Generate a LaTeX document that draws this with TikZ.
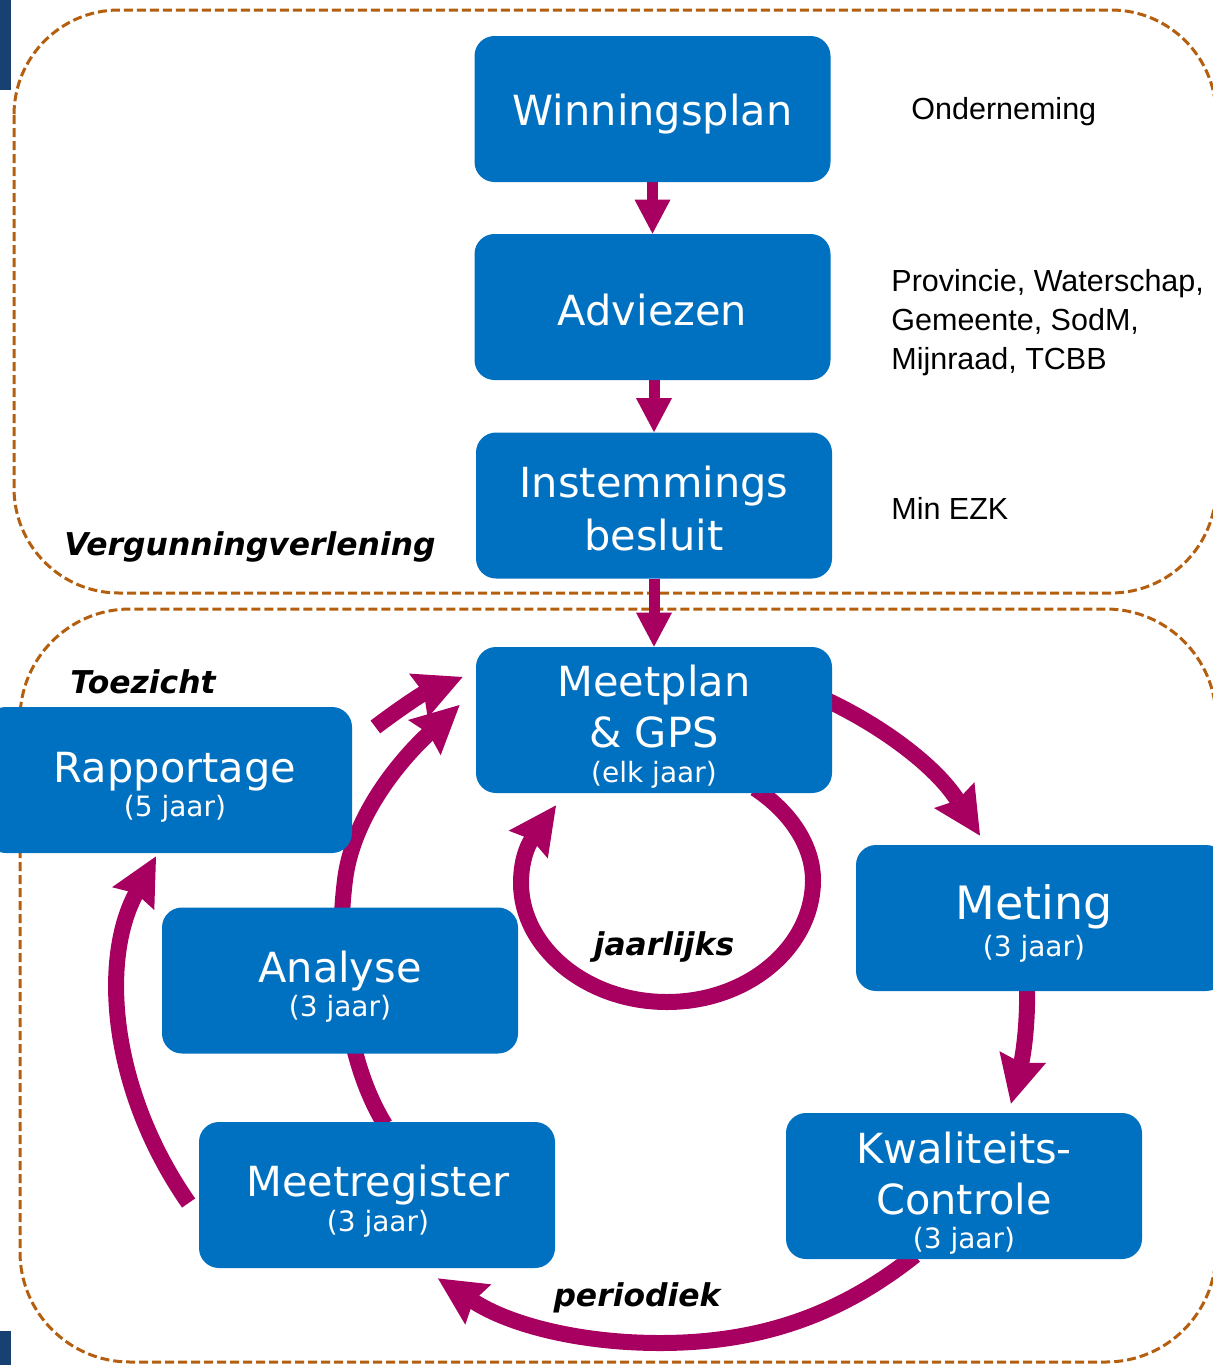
\documentclass[tikz,border=0pt]{standalone}
\usepackage{fontspec}
\setmainfont{DejaVu Sans}
\newfontfamily\sidefont{Liberation Sans}
\usetikzlibrary{arrows.meta}
\definecolor{boxblue}{RGB}{0,112,192}
\definecolor{mag}{RGB}{168,0,96}
\definecolor{dashbrown}{RGB}{180,95,15}
\definecolor{edgeblue}{RGB}{24,64,112}
\pgfdeclarelayer{regions}
\pgfdeclarelayer{arrowlayer}
\pgfsetlayers{regions,arrowlayer,main}
\begin{document}
\begin{tikzpicture}[x=0.5pt,y=-0.5pt,
 bluebox/.style={draw=none, fill=boxblue, rounded corners=10pt, minimum width=178pt, minimum height=73pt, inner sep=0pt},
 bigtext/.style={text=white, inner sep=0pt, anchor=base, font=\fontsize{20.75pt}{25pt}\selectfont},
 subtext/.style={text=white, inner sep=0pt, anchor=base, font=\fontsize{14pt}{17pt}\selectfont},
 sidetext/.style={inner sep=0pt, anchor=base west, font=\sidefont\fontsize{15.25pt}{19.5pt}\selectfont},
 labeltext/.style={inner sep=0pt, font=\bfseries\itshape\fontsize{15.7pt}{19pt}\selectfont},
 dashregion/.style={draw=dashbrown, line width=1.5pt, dash pattern=on 4.5pt off 2pt},
 flow/.style={draw=mag, line width=5.5pt, -{Triangle[length=17pt,width=18pt,line width=0pt]}},
 bigarrow/.style={draw=mag, line width=8pt, -{Stealth[length=24pt,width=24pt,inset=3pt,line width=0pt]}},
]
\useasboundingbox (0,0) rectangle (1213,1365);

% edge bits
\fill[edgeblue] (0,0) rectangle (11,90);
\fill[edgeblue] (0,1331) rectangle (11,1365);

% boxes
\node[bluebox] (win) at (652.5,109) {};
\node[bluebox] (adv) at (652.5,307) {};
\node[bluebox] (inst) at (654,505.5) {};
\node[bluebox] (mp) at (654,720) {};
\node[bluebox, minimum width=183pt] (rap) at (169,780) {};
\node[bluebox, minimum width=185pt] (met) at (1041,918) {};
\node[bluebox] (ana) at (340,980.5) {};
\node[bluebox] (mr) at (377,1195) {};
\node[bluebox] (kw) at (964,1186) {};

% box texts
\node[bigtext] (t-win) at (652.5,125) {Winningsplan};
\node[bigtext] (t-adv) at (652.5,325) {Adviezen};
\node[bigtext] (t-inst1) at (654,497) {Instemmings};
\node[bigtext] (t-inst2) at (654,550) {besluit};
\node[bigtext] (t-mp1) at (654,696) {Meetplan};
\node[bigtext] (t-mp2) at (654,747) {\& GPS};
\node[subtext] (t-mp3) at (654,782) {(elk jaar)};
\node[bigtext] (t-rap1) at (175,782) {Rapportage};
\node[subtext] (t-rap2) at (175,816) {(5 jaar)};
\node[bigtext, font=\fontsize{23pt}{27pt}\selectfont] (t-met1) at (1034,919) {Meting};
\node[subtext] (t-met2) at (1034,956) {(3 jaar)};
\node[bigtext] (t-ana1) at (340,982) {Analyse};
\node[subtext] (t-ana2) at (340,1016) {(3 jaar)};
\node[bigtext] (t-mr1) at (378,1196) {Meetregister};
\node[subtext] (t-mr2) at (378,1231) {(3 jaar)};
\node[bigtext] (t-kw1) at (964,1163) {Kwaliteits-};
\node[bigtext] (t-kw2) at (964,1214) {Controle};
\node[subtext] (t-kw3) at (964,1248) {(3 jaar)};

% side texts
\node[sidetext] (s-ond) at (911,119) {Onderneming};
\node[sidetext] (s-prov1) at (891,291) {Provincie, Waterschap,};
\node[sidetext] (s-prov2) at (891,330) {Gemeente, SodM,};
\node[sidetext] (s-prov3) at (891,369) {Mijnraad, TCBB};
\node[sidetext] (s-min) at (891,519) {Min EZK};

% labels
\node[labeltext, anchor=base west] (l-verg) at (64,555) {Vergunningverlening};
\node[labeltext, anchor=base west] (l-toe) at (70,693) {Toezicht};
\node[labeltext, anchor=base] (l-jaar) at (664,955) {jaarlijks};
\node[labeltext, anchor=base] (l-per) at (637,1306) {periodiek};

% dashed regions
\begin{pgfonlayer}{regions}
\draw[dashregion, rounded corners=52.5pt] (14,10) rectangle (1216,593);
\draw[dashregion, rounded corners=55pt] (20,609) rectangle (1216,1362);
\end{pgfonlayer}

% connectors
\begin{pgfonlayer}{arrowlayer}
\draw[flow] (win.south) -- (adv.north);
\draw[flow] (adv.south -| inst.north) -- (inst.north);
\draw[flow] (inst.south) -- (mp.north);
% Meetplan -> Meting
\draw[bigarrow] ([shift={(-6,-20)}]mp.east) .. controls (880,725) and (935,765) .. ([shift={(-61,-9)}]met.north);
% Meting -> Kwaliteits-Controle
\draw[bigarrow] ([shift={(-14,-6)}]met.south) .. controls (1028,1030) and (1022,1060) .. ([shift={(47,-9)}]kw.north);
% Kwaliteits-Controle -> Meetregister
\draw[bigarrow] ([shift={(-49,-4)}]kw.south) .. controls (840,1315) and (760,1343) .. (660,1343) .. controls (580,1343) and (510,1325) .. ([shift={(61,10)}]mr.south);
% Meetregister -> Rapportage
\draw[bigarrow] ([shift={(-10,8)}]mr.west) .. controls (110,1090) and (100,960) .. ([shift={(-13,3)}]rap.south);
% Meetregister -> Meetplan (behind Analyse)
\draw[bigarrow] ([shift={(8,3)}]mr.north) .. controls (345,1060) and (335,960) .. (345,880) .. controls (355,800) and (425,737) .. ([shift={(-16,-15)}]mp.west);
% Rapportage -> Meetplan
\draw[bigarrow] ([shift={(23,-53)}]rap.east) .. controls (395,712) and (420,695) .. ([shift={(-13,-43)}]mp.west);
% jaarlijks loop
\draw[bigarrow] ([shift={(101,-5)}]mp.south) .. controls (795,815) and (813,850) .. (813,880) .. controls (813,947) and (748,1002) .. (667,1002) .. controls (586,1002) and (521,947) .. (521,883) .. controls (521,850) and (535,835) .. ([shift={(-98,12)}]mp.south);
\end{pgfonlayer}
\end{tikzpicture}
\end{document}
